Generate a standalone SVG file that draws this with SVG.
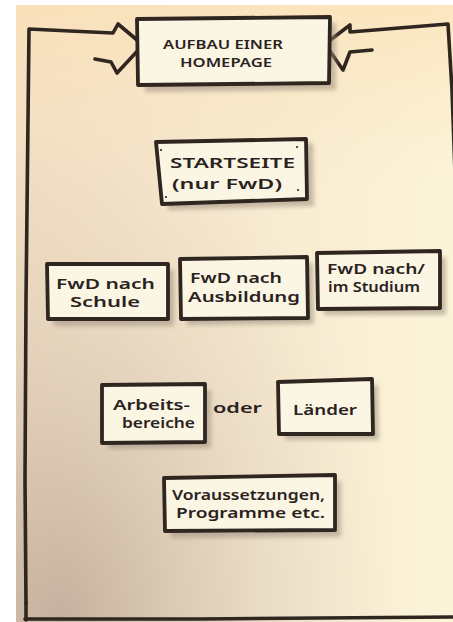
<svg xmlns="http://www.w3.org/2000/svg" width="453" height="622" viewBox="0 0 453 622">
<defs>
<linearGradient id="paperH" x1="0" y1="0" x2="1" y2="0">
<stop offset="0" stop-color="#f1ddc2"/>
<stop offset="0.55" stop-color="#f7ead0"/>
<stop offset="1" stop-color="#fcf4d8"/>
</linearGradient>
<linearGradient id="paperTop" x1="0" y1="0" x2="0" y2="1">
<stop offset="0" stop-color="#fbe2b8" stop-opacity="0.8"/>
<stop offset="0.3" stop-color="#fbe6c4" stop-opacity="0"/>
</linearGradient>
<radialGradient id="shade" cx="0.1" cy="1" r="0.8">
<stop offset="0" stop-color="#bca897" stop-opacity="0.85"/>
<stop offset="0.6" stop-color="#cdbcab" stop-opacity="0.3"/>
<stop offset="1" stop-color="#d8c8b4" stop-opacity="0"/>
</radialGradient>
<filter id="blur" x="-10%" y="-10%" width="130%" height="140%"><feGaussianBlur stdDeviation="2"/></filter>
</defs>
<style>
.ink{fill:none;stroke:#2f2620;stroke-width:3.6;stroke-linecap:round;stroke-linejoin:round}
.box{fill:#fbf5e4;stroke:#2f2620;stroke-width:3.8;stroke-linejoin:round}
.shadow{fill:#9c8e7e;opacity:0.55;filter:url(#blur)}
.t{font-family:"Noto Sans","DejaVu Sans",sans-serif;fill:#2a221d;font-weight:600}
.cap{font-size:12px}
.big{font-size:14.5px}
.lbl{font-size:13.5px}
.dot{fill:#2f2620}
</style>
<rect width="453" height="622" fill="#ffffff"/>
<rect x="16" y="5" width="437" height="617" fill="url(#paperH)"/>
<rect x="16" y="5" width="437" height="617" fill="url(#paperTop)"/>
<rect x="16" y="5" width="437" height="617" fill="url(#shade)"/>

<g id="connectors">
<path class="ink" d="M26,603 L25,480 L26,300 L28,120 L29,29 L70,31 L113,33 L118,24 L143,45 L117,73 L111,62 L95,59"/>
<path class="ink" d="M26,603 L26,620"/>
<path class="ink" d="M25,619 L200,619 L453,617"/>
<path class="ink" d="M372,50 L350,52 L343,70 L325,44 L350,25 L350,32 L448,24 L452,90 L456,200"/>
</g>

<g id="title">
<polygon class="shadow" points="143,25 336,23 336,90 145,92"/>
<polygon class="box" points="137,19 330,17 329,83 138,85"/>
<text class="t cap" x="163" y="49" textLength="120" lengthAdjust="spacingAndGlyphs">AUFBAU EINER</text>
<text class="t cap" x="180" y="67" textLength="92" lengthAdjust="spacingAndGlyphs">HOMEPAGE</text>
</g>

<g id="startseite">
<polygon class="shadow" points="162,146 313,143 314,206 168,210"/>
<polygon class="box" points="156,142 306,139 307,199 162,204"/>
<circle class="dot" cx="161" cy="150" r="1.1"/>
<circle class="dot" cx="297" cy="147" r="1.1"/>
<circle class="dot" cx="166" cy="197" r="1.1"/>
<circle class="dot" cx="298" cy="190" r="1.1"/>
<text class="t big" x="170" y="168" textLength="125" lengthAdjust="spacingAndGlyphs">STARTSEITE</text>
<text class="t big" x="172" y="189" textLength="110" lengthAdjust="spacingAndGlyphs">(nur FwD)</text>
</g>

<g id="schule">
<polygon class="shadow" points="53,270 174,270 174,326 54,326"/>
<polygon class="box" points="47,264 168,264 168,319 48,319"/>
<text class="t lbl" x="56" y="289" textLength="99" lengthAdjust="spacingAndGlyphs">FwD nach</text>
<text class="t lbl" x="70" y="307" textLength="70" lengthAdjust="spacingAndGlyphs">Schule</text>
</g>

<g id="ausbildung">
<polygon class="shadow" points="186,265 313,263 314,324 187,325"/>
<polygon class="box" points="180,259 307,257 308,318 181,319"/>
<text class="t lbl" x="190" y="283" textLength="92" lengthAdjust="spacingAndGlyphs">FwD nach</text>
<text class="t lbl" x="188" y="302" textLength="112" lengthAdjust="spacingAndGlyphs">Ausbildung</text>
</g>

<g id="studium">
<polygon class="shadow" points="323,259 446,257 446,315 324,315"/>
<polygon class="box" points="317,253 440,251 440,308 318,309"/>
<text class="t lbl" x="327" y="274" textLength="98" lengthAdjust="spacingAndGlyphs">FwD nach/</text>
<text class="t lbl" x="328" y="292" textLength="92" lengthAdjust="spacingAndGlyphs">im Studium</text>
</g>

<g id="arbeitsbereiche">
<polygon class="shadow" points="108,391 211,390 211,448 108,449"/>
<polygon class="box" points="102,385 205,384 205,442 102,443"/>
<text class="t lbl" x="113" y="410" textLength="77" lengthAdjust="spacingAndGlyphs">Arbeits-</text>
<text class="t lbl" x="122" y="428" textLength="73" lengthAdjust="spacingAndGlyphs">bereiche</text>
</g>

<text class="t lbl" x="213" y="413" textLength="49" lengthAdjust="spacingAndGlyphs">oder</text>

<g id="laender">
<polygon class="shadow" points="284,388 378,385 379,440 285,440"/>
<polygon class="box" points="278,382 372,379 373,434 279,434"/>
<text class="t lbl" x="293" y="415" textLength="64" lengthAdjust="spacingAndGlyphs">Länder</text>
</g>

<g id="voraussetzungen">
<polygon class="shadow" points="170,484 341,481 341,537 171,538"/>
<polygon class="box" points="164,478 335,475 335,530 165,531"/>
<text class="t lbl" x="172" y="500" textLength="153" lengthAdjust="spacingAndGlyphs">Voraussetzungen,</text>
<text class="t lbl" x="176" y="518" textLength="149" lengthAdjust="spacingAndGlyphs">Programme etc.</text>
</g>
</svg>
